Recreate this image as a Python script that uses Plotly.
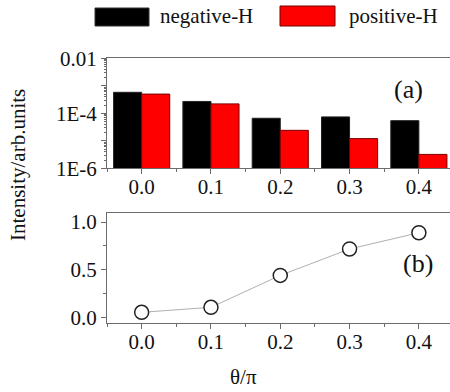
import plotly.graph_objects as go

# ---- data ----
theta = [0.0, 0.1, 0.2, 0.3, 0.4]
tick_labels = ["0.0", "0.1", "0.2", "0.3", "0.4"]
negative_H = [5.8e-4, 2.7e-4, 6.6e-5, 7.4e-5, 5.4e-5]
positive_H = [5.0e-4, 2.2e-4, 2.4e-5, 1.2e-5, 3.2e-6]
ratio = [0.052, 0.105, 0.44, 0.717, 0.888]
log_tickvals = [1e-6, 1e-5, 1e-4, 1e-3, 1e-2]
log_ticktext = ["1E-6", "", "1E-4", "", "0.01"]
lin_tickvals = [0.0, 0.5, 1.0]
lin_ticktext = ["0.0", "0.5", "1.0"]

W, H = 450, 392
FONT = "Liberation Serif, Times New Roman, Times, serif"
AX = "#6b6b6b"

def px(x):
    return x / W

def py(y):
    return 1 - y / H

fig = go.Figure()
fig.add_trace(go.Bar(x=theta, y=negative_H, name="negative-H",
                     marker=dict(color="#000000", line=dict(color="#222222", width=1)),
                     xaxis="x", yaxis="y"))
fig.add_trace(go.Bar(x=theta, y=positive_H, name="positive-H",
                     marker=dict(color="#ff0000", line=dict(color="#7a0000", width=1)),
                     xaxis="x", yaxis="y"))
fig.add_trace(go.Scatter(x=theta, y=ratio, mode="lines+markers",
                         line=dict(color="#b0b0b0", width=1),
                         marker=dict(symbol="circle", size=14, color="white",
                                     line=dict(color="#222222", width=1.5)),
                         xaxis="x2", yaxis="y2", showlegend=False))

xr = [-0.05, 0.4449]
minor_log = [m * 10 ** e for e in range(-6, -2) for m in range(2, 10)]

common_x = dict(range=xr, tickvals=theta, ticktext=tick_labels, ticks="outside",
                ticklen=5, tickcolor=AX, showline=True, linecolor=AX, linewidth=1,
                mirror=True, showgrid=False, zeroline=False, ticklabelstandoff=-6,
                minor=dict(dtick=0.05, tick0=0.05, ticks="outside", ticklen=3, tickcolor=AX),
                tickfont=dict(family=FONT, size=21, color="#111"))

fig.update_layout(
    width=W, height=H,
    margin=dict(l=0, r=0, t=0, b=0, autoexpand=False),
    paper_bgcolor="white", plot_bgcolor="white",
    showlegend=False,
    barmode="group", bargap=0.19, bargroupgap=0,
    xaxis=dict(domain=[px(107), 1], anchor="y", **common_x),
    yaxis=dict(domain=[py(168.3), py(58.3)], anchor="x", type="log", range=[-6, -2],
               tickvals=log_tickvals, ticktext=log_ticktext, ticks="outside", ticklen=5,
               tickcolor=AX, showline=True, linecolor=AX, linewidth=1, mirror=True,
               showgrid=False, zeroline=False,
               minor=dict(tickmode="array", tickvals=minor_log, ticks="outside",
                          ticklen=2, tickcolor=AX),
               tickfont=dict(family=FONT, size=21, color="#111")),
    xaxis2=dict(domain=[px(107), 1], anchor="y2", **common_x),
    yaxis2=dict(domain=[py(323.3), py(212.7)], anchor="x2", range=[-0.063, 1.098],
                tickvals=lin_tickvals, ticktext=lin_ticktext, ticks="outside", ticklen=5,
                tickcolor=AX, showline=True, linecolor=AX, linewidth=1, mirror=True,
                showgrid=False, zeroline=False,
                minor=dict(dtick=0.25, tick0=0, ticks="outside", ticklen=3, tickcolor=AX),
                tickfont=dict(family=FONT, size=21, color="#111")),
)

# legend drawn manually (large swatches)
fig.add_shape(type="rect", xref="paper", yref="paper", x0=px(95), x1=px(149),
              y0=py(26), y1=py(8), fillcolor="#000000", line=dict(color="#333", width=1))
fig.add_shape(type="rect", xref="paper", yref="paper", x0=px(280), x1=px(335),
              y0=py(26), y1=py(6), fillcolor="#ff0000", line=dict(color="#7a0000", width=1))
fig.add_annotation(text="negative-H", xref="paper", yref="paper", x=px(158), y=py(16),
                   xanchor="left", yanchor="middle", showarrow=False,
                   font=dict(family=FONT, size=21, color="#111"))
fig.add_annotation(text="positive-H", xref="paper", yref="paper", x=px(347), y=py(16),
                   xanchor="left", yanchor="middle", showarrow=False,
                   font=dict(family=FONT, size=21, color="#111"))

fig.add_annotation(text="(a)", xref="paper", yref="paper", x=px(408), y=py(90),
                   xanchor="center", yanchor="middle", showarrow=False,
                   font=dict(family=FONT, size=26, color="#111"))
fig.add_annotation(text="(b)", xref="paper", yref="paper", x=px(418), y=py(263),
                   xanchor="center", yanchor="middle", showarrow=False,
                   font=dict(family=FONT, size=26, color="#111"))
fig.add_annotation(text="θ/π", xref="paper", yref="paper", x=px(243), y=py(377),
                   xanchor="center", yanchor="middle", showarrow=False,
                   font=dict(family=FONT, size=21, color="#111"))
fig.add_annotation(text="Intensity/arb.units", xref="paper", yref="paper", x=px(18), y=py(165),
                   xanchor="center", yanchor="middle", showarrow=False, textangle=-90,
                   font=dict(family=FONT, size=21, color="#111"))

fig.write_html("out.html", config={"displayModeBar": False},
               post_script="document.body.style.margin='0';")
